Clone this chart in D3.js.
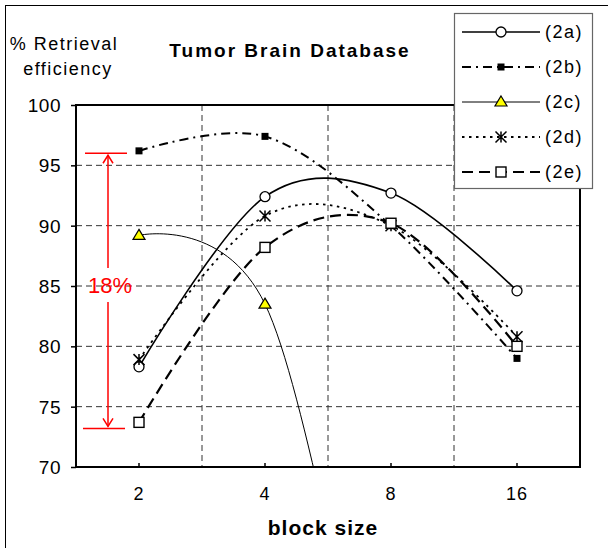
<!DOCTYPE html>
<head>
  <meta charset="utf-8">
  <script src="https://d3js.org/d3.v7.min.js"></script>
  <style>
    body { margin: 0; background: #fff; }
    text { font-family: Arial, "Liberation Sans", sans-serif; fill: #000; }
  </style>
</head>
<body>
  <div id="graph"></div>
  <script>
    // data
    var categories = ["2", "4", "8", "16"];
    var s2a = [78.3, 92.4, 92.7, 84.6];
    var s2b = [96.2, 97.4, 90.0, 79.0];
    var s2c = [89.2, 83.5, 46.0, 40.0];
    var s2d = [78.9, 90.8, 90.0, 80.8];
    var s2e = [73.7, 88.2, 90.2, 80.0];
    var seriesNames = ["(2a)", "(2b)", "(2c)", "(2d)", "(2e)"];
    var yTicks = [70, 75, 80, 85, 90, 95, 100];
    var spanLow = 73.2, spanHigh = 96.0; // the red 18% bracket

    var width = 608, height = 548;
    var svg = d3.select("#graph").append("svg")
      .attr("width", width)
      .attr("height", height);

    // outer chart frame (right/bottom edges fall outside the picture)
    svg.append("rect")
      .attr("x", 5.5).attr("y", 5.5)
      .attr("width", 620).attr("height", 560)
      .attr("fill", "none").attr("stroke", "#000").attr("stroke-width", 1);

    var pLeft = 76, pRight = 580, pTop = 105, pBottom = 467;
    var x = d3.scaleBand().domain(categories).range([pLeft, pRight]);
    var y = d3.scaleLinear().domain([70, 100]).range([pBottom, pTop]);
    var cx = c => x(c) + x.bandwidth() / 2;

    // grid
    svg.selectAll(".hgrid").data(yTicks.slice(1, -1)).enter()
      .append("line")
      .attr("x1", pLeft).attr("x2", pRight)
      .attr("y1", d => y(d)).attr("y2", d => y(d))
      .attr("stroke", "#333").attr("stroke-dasharray", "6,4");
    svg.selectAll(".vgrid").data(categories.slice(1)).enter()
      .append("line")
      .attr("x1", d => x(d)).attr("x2", d => x(d))
      .attr("y1", pTop).attr("y2", pBottom)
      .attr("stroke", "#333").attr("stroke-dasharray", "6,4");

    // axes
    var yAxis = d3.axisLeft(y).tickValues(yTicks).tickSize(5).tickPadding(10);
    var gy = svg.append("g").attr("transform", "translate(" + pLeft + ",0)").call(yAxis);
    gy.select(".domain").remove();
    gy.selectAll("line").attr("stroke-width", 1.5);
    gy.selectAll("text").attr("font-size", 19).attr("letter-spacing", 0.5).attr("dy", "0.35em");

    var xAxis = d3.axisBottom(x).tickSize(-4).tickPadding(20);
    var gx = svg.append("g").attr("transform", "translate(0," + pBottom + ")").call(xAxis);
    gx.select(".domain").remove();
    gx.selectAll("line").attr("stroke-width", 1.5);
    gx.selectAll("text").attr("font-size", 18).attr("letter-spacing", 1);

    // series
    svg.append("clipPath").attr("id", "plotclip")
      .append("rect").attr("x", pLeft).attr("y", pTop)
      .attr("width", pRight - pLeft).attr("height", pBottom - pTop);

    var line = d3.line()
      .x((d, i) => cx(categories[i]))
      .y(d => y(d))
      .curve(d3.curveCardinal.tension(0));

    var styles = [
      { data: s2a, width: 1.6, dash: null, marker: "circle" },
      { data: s2b, width: 2, dash: "9,5,2,5", marker: "fsquare" },
      { data: s2c, width: 1, dash: null, marker: "triangle" },
      { data: s2d, width: 1.8, dash: "2.5,4.5", marker: "star" },
      { data: s2e, width: 2.2, dash: "11,6", marker: "osquare" }
    ];

    var series = svg.append("g").attr("clip-path", "url(#plotclip)");
    series.selectAll(".line").data(styles).enter()
      .append("path")
      .attr("class", "line")
      .attr("d", d => line(d.data))
      .attr("fill", "none")
      .attr("stroke", "#000")
      .attr("stroke-width", d => d.width)
      .attr("stroke-dasharray", d => d.dash);

    function drawMarker(g, type, px, py) {
      if (type == "circle") {
        g.append("circle").attr("cx", px).attr("cy", py).attr("r", 5)
          .attr("fill", "#fff").attr("stroke", "#000").attr("stroke-width", 1.3);
      } else if (type == "fsquare") {
        g.append("rect").attr("x", px - 3.5).attr("y", py - 3.5)
          .attr("width", 7).attr("height", 7).attr("fill", "#000");
      } else if (type == "triangle") {
        g.append("path")
          .attr("d", "M" + px + "," + (py - 6) + "L" + (px + 6) + "," + (py + 4) + "L" + (px - 6) + "," + (py + 4) + "Z")
          .attr("fill", "#ffff00").attr("stroke", "#000").attr("stroke-width", 1.2);
      } else if (type == "star") {
        var r = 5.5;
        g.append("path")
          .attr("d", "M" + (px - r) + "," + (py - r) + "L" + (px + r) + "," + (py + r) +
            "M" + (px + r) + "," + (py - r) + "L" + (px - r) + "," + (py + r) +
            "M" + px + "," + (py - r) + "L" + px + "," + (py + r))
          .attr("stroke", "#000").attr("stroke-width", 1.5);
      } else if (type == "osquare") {
        g.append("rect").attr("x", px - 5).attr("y", py - 5)
          .attr("width", 10).attr("height", 10)
          .attr("fill", "#fff").attr("stroke", "#000").attr("stroke-width", 1.4);
      }
    }

    var markers = svg.append("g").attr("clip-path", "url(#plotclip)");
    styles.forEach(function(s) {
      s.data.forEach(function(v, i) {
        if (v >= 70) drawMarker(markers, s.marker, cx(categories[i]), y(v));
      });
    });

    // plot frame
    svg.append("rect")
      .attr("x", pLeft).attr("y", pTop)
      .attr("width", pRight - pLeft).attr("height", pBottom - pTop)
      .attr("fill", "none").attr("stroke", "#000").attr("stroke-width", 2);

    // red 18% bracket
    var red = "#ff0000", ax = 108;
    var yHi = y(spanHigh), yLo = y(spanLow);
    svg.append("line").attr("x1", 85).attr("x2", 127).attr("y1", yHi).attr("y2", yHi)
      .attr("stroke", red).attr("stroke-width", 1.5);
    svg.append("line").attr("x1", 83).attr("x2", 125).attr("y1", yLo).attr("y2", yLo)
      .attr("stroke", red).attr("stroke-width", 1.5);
    svg.append("line").attr("x1", ax).attr("x2", ax).attr("y1", yHi + 2).attr("y2", 268)
      .attr("stroke", red).attr("stroke-width", 1.5);
    svg.append("line").attr("x1", ax).attr("x2", ax).attr("y1", 302).attr("y2", yLo - 2)
      .attr("stroke", red).attr("stroke-width", 1.5);
    svg.append("path")
      .attr("d", "M" + (ax - 5) + "," + (yHi + 10) + "L" + ax + "," + (yHi + 2) + "L" + (ax + 5) + "," + (yHi + 10))
      .attr("fill", "none").attr("stroke", red).attr("stroke-width", 1.5);
    svg.append("path")
      .attr("d", "M" + (ax - 5) + "," + (yLo - 10) + "L" + ax + "," + (yLo - 2) + "L" + (ax + 5) + "," + (yLo - 10))
      .attr("fill", "none").attr("stroke", red).attr("stroke-width", 1.5);
    svg.append("text").attr("x", 110).attr("y", 293)
      .attr("text-anchor", "middle").attr("font-size", 22)
      .style("fill", red).text("18%");

    // titles
    svg.append("text").attr("x", 290).attr("y", 57)
      .attr("text-anchor", "middle").attr("font-size", 19).attr("font-weight", "bold")
      .attr("letter-spacing", 2).text("Tumor Brain Database");
    svg.append("text").attr("x", 64).attr("y", 50)
      .attr("text-anchor", "middle").attr("font-size", 18).attr("letter-spacing", 1.5)
      .text("% Retrieval");
    svg.append("text").attr("x", 68).attr("y", 75)
      .attr("text-anchor", "middle").attr("font-size", 18).attr("letter-spacing", 1.5)
      .text("efficiency");
    svg.append("text").attr("x", 323).attr("y", 535)
      .attr("text-anchor", "middle").attr("font-size", 21).attr("font-weight", "bold")
      .attr("letter-spacing", 1).text("block size");

    // legend
    var leg = svg.append("g");
    leg.append("rect").attr("x", 454.5).attr("y", 13.5)
      .attr("width", 138).attr("height", 175)
      .attr("fill", "#fff").attr("stroke", "#666").attr("stroke-width", 1.2);
    styles.forEach(function(s, i) {
      var ly = 32 + i * 35;
      leg.append("line").attr("x1", 462).attr("x2", 540).attr("y1", ly).attr("y2", ly)
        .attr("stroke", "#000").attr("stroke-width", s.width)
        .attr("stroke-dasharray", s.dash);
      drawMarker(leg, s.marker, 501, ly);
      leg.append("text").attr("x", 545).attr("y", ly).attr("dy", "0.35em")
        .attr("font-size", 18).attr("letter-spacing", 1.5).text(seriesNames[i]);
    });
  </script>
</body>
